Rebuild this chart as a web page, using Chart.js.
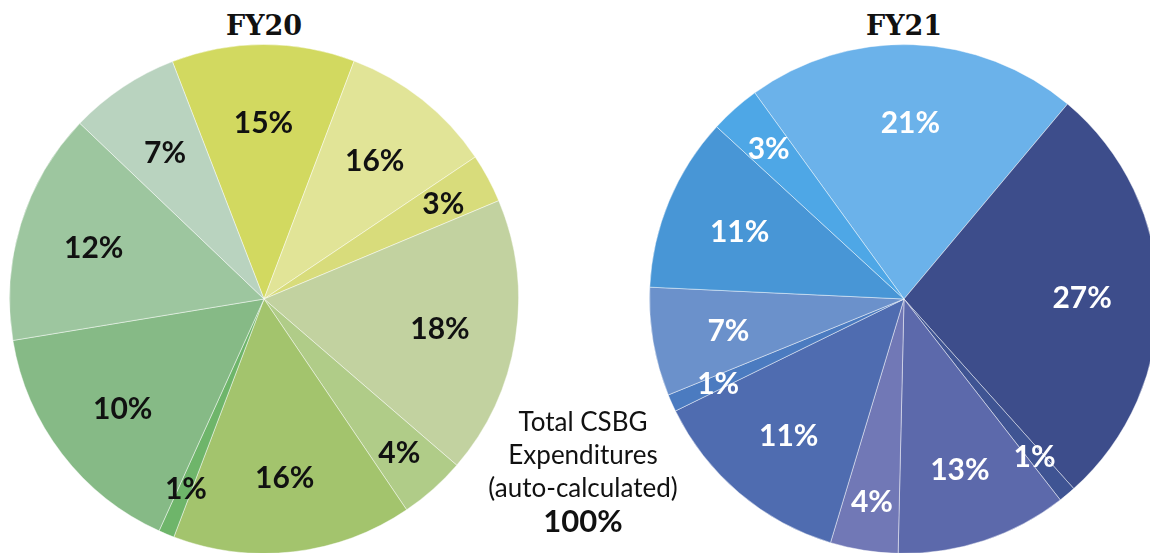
<!DOCTYPE html>
<html>
<head>
<meta charset="utf-8">
<script src="https://cdn.jsdelivr.net/npm/chart.js@4/dist/chart.umd.min.js"></script>
<style>
  html, body { margin: 0; padding: 0; background: #fff; overflow: hidden; }
  body { width: 1150px; height: 553px; position: relative; }
  .title { position: absolute; width: 200px; height: 30px; line-height: 30px; text-align: center;
           font-family: "DejaVu Serif", serif; font-weight: bold; font-size: 27px; color: #111; top: 11px; }
  .pie { position: absolute; top: 44px; }
  #total { position: absolute; left: 483px; top: 405px; width: 200px; text-align: center;
           font-family: Lato, "Noto Sans", sans-serif; font-size: 26px; line-height: 33px; color: #111; }
  #total b { font-size: 31px; }
</style>
</head>
<body>
<div class="title" style="left:164px">FY20</div>
<div class="title" style="left:804px">FY21</div>
<canvas id="pie20" class="pie" width="510" height="510" style="left:9px"></canvas>
<canvas id="pie21" class="pie" width="510" height="510" style="left:649px"></canvas>
<div id="total">Total CSBG<br>Expenditures<br>(auto-calculated)<br><b>100%</b></div>
<script>
// Slice sizes as drawn (percent of circle), clockwise from the first slice
const fy20Shares = [11.6, 9.8, 3.1, 17.6, 4.2, 15.2, 1.0, 15.6, 14.7, 7.0];
// Percent labels printed on the slices
const fy20Labels = ["15%", "16%", "3%", "18%", "4%", "16%", "1%", "10%", "12%", "7%"];
const fy20Colors = ["#d2d960", "#e1e497", "#d8dc7b", "#c2d2a0", "#b0cc88",
                    "#a3c46d", "#6eb56a", "#86ba86", "#9dc69f", "#b9d3bf"];

const fy21Shares = [21.1, 27.3, 1.1, 10.9, 4.3, 13.1, 1.1, 6.9, 11.1, 3.2];
const fy21Labels = ["21%", "27%", "1%", "13%", "4%", "11%", "1%", "7%", "11%", "3%"];
const fy21Colors = ["#6bb2ea", "#3d4d8b", "#3f5493", "#5c69ab", "#7178b6",
                    "#4f6cb0", "#4b7bc0", "#6b91cb", "#4896d6", "#4ea7e6"];

// Draw the printed labels inside each slice
const sliceLabels = {
    id: "sliceLabels",
    afterDatasetsDraw(chart, args, opts) {
        const ctx = chart.ctx;
        const meta = chart.getDatasetMeta(0);
        const shares = chart.data.datasets[0].data;
        ctx.save();
        ctx.font = "bold 30px Lato, 'Noto Sans', sans-serif";
        ctx.fillStyle = opts.color;
        ctx.textAlign = "center";
        ctx.textBaseline = "middle";
        meta.data.forEach(function(arc, i) {
            const p = arc.getProps(["x", "y", "startAngle", "endAngle", "outerRadius"], true);
            const mid = (p.startAngle + p.endAngle) / 2;
            const f = shares[i] < 5 ? 0.8 : 0.7;
            ctx.fillText(opts.labels[i], p.x + Math.cos(mid) * p.outerRadius * f,
                         p.y + 2 + Math.sin(mid) * p.outerRadius * f);
        });
        ctx.restore();
    }
};

function makePie(id, shares, colors, labels, rotation, textColor) {
    new Chart(document.getElementById(id), {
        type: "pie",
        data: {
            labels: labels,
            datasets: [{
                data: shares,
                backgroundColor: colors,
                borderColor: "rgba(255,255,255,0.45)",
                borderWidth: 1
            }]
        },
        options: {
            responsive: false,
            animation: false,
            rotation: rotation,
            layout: { padding: 0 },
            plugins: {
                legend: { display: false },
                tooltip: { enabled: false },
                sliceLabels: { labels: labels, color: textColor }
            }
        },
        plugins: [sliceLabels]
    });
}

makePie("pie20", fy20Shares, fy20Colors, fy20Labels, -21.1, "#111");
makePie("pie21", fy21Shares, fy21Colors, fy21Labels, -35.9, "#fff");
</script>
</body>
</html>
